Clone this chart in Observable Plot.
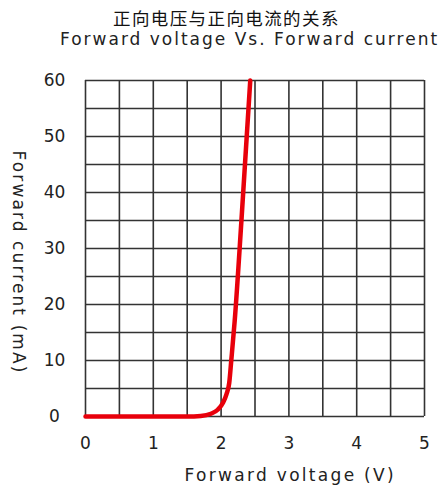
<!DOCTYPE html>
<html><head><meta charset="utf-8">
<script src="https://cdn.jsdelivr.net/npm/d3@7"></script>
<script src="https://cdn.jsdelivr.net/npm/@observablehq/plot@0.6"></script>
<style>
body{margin:0;background:#fff;width:443px;height:490px;overflow:hidden;font-family:"DejaVu Sans",sans-serif;}
#t1{position:absolute;left:113px;top:5px;white-space:nowrap;font-family:"Noto Sans CJK SC";font-size:17.5px;letter-spacing:1.4px;color:#111;}
#t2{position:absolute;left:60px;top:29px;white-space:nowrap;font-size:17px;color:#222;letter-spacing:2.0px;}
#chart{position:absolute;left:0;top:55px;}
.xl text{letter-spacing:2.3px;}
.yl text{letter-spacing:2.1px;}
</style></head><body>
<div id="t1">正向电压与正向电流的关系</div>
<div id="t2">Forward voltage Vs. Forward current</div>
<div id="chart"></div>
<script>
const voltage = [0, 1.0, 1.5, 1.7, 1.85, 1.95, 2.03, 2.08, 2.12, 2.15, 2.2, 2.3, 2.43];
const current = [0, 0, 0, 0.1, 0.5, 1.2, 2.5, 4, 6, 10, 17, 35, 60];
const gridX = [0, 0.5, 1, 1.5, 2, 2.5, 3, 3.5, 4, 4.5, 5];
const gridY = [0, 5, 10, 15, 20, 25, 30, 35, 40, 45, 50, 55, 60];
const xTicks = [0, 1, 2, 3, 4, 5];
const yTicks = [0, 10, 20, 30, 40, 50, 60];
const xLabel = "Forward voltage (V)";
const yLabel = "Forward current (mA)";

const data = voltage.map((v, i) => ({v, i: current[i]}));

const plot = Plot.plot({
  width: 443, height: 435,
  marginLeft: 85, marginRight: 19, marginTop: 25, marginBottom: 74,
  x: {domain: [0, 5], axis: null},
  y: {domain: [0, 60], axis: null},
  style: {fontFamily: "DejaVu Sans, sans-serif", background: "white"},
  marks: [
    Plot.ruleX(gridX, {stroke: "#333", strokeWidth: 1.6}),
    Plot.ruleY(gridY, {stroke: "#333", strokeWidth: 1.6}),
    Plot.text(xTicks, {x: d => d, y: 0, dy: 27, text: d => String(d), fontSize: 17, fill: "#222"}),
    Plot.text(yTicks, {x: 0, y: d => d, dx: -31, text: d => String(d), fontSize: 17, fill: "#222"}),
    Plot.line(data, {x: "v", y: "i", stroke: "#e8000b", strokeWidth: 4.5, curve: "monotone-x", clip: false}),
    Plot.text([xLabel], {x: 3.02, y: 0, dy: 59, text: d => d, fontSize: 17, fill: "#222", className: "xl"}),
    Plot.text([yLabel], {x: 0, y: 27.5, dx: -67, text: d => d, rotate: 90, fontSize: 17, fill: "#222", className: "yl"})
  ]
});
document.getElementById("chart").appendChild(plot);
</script>
</body></html>
